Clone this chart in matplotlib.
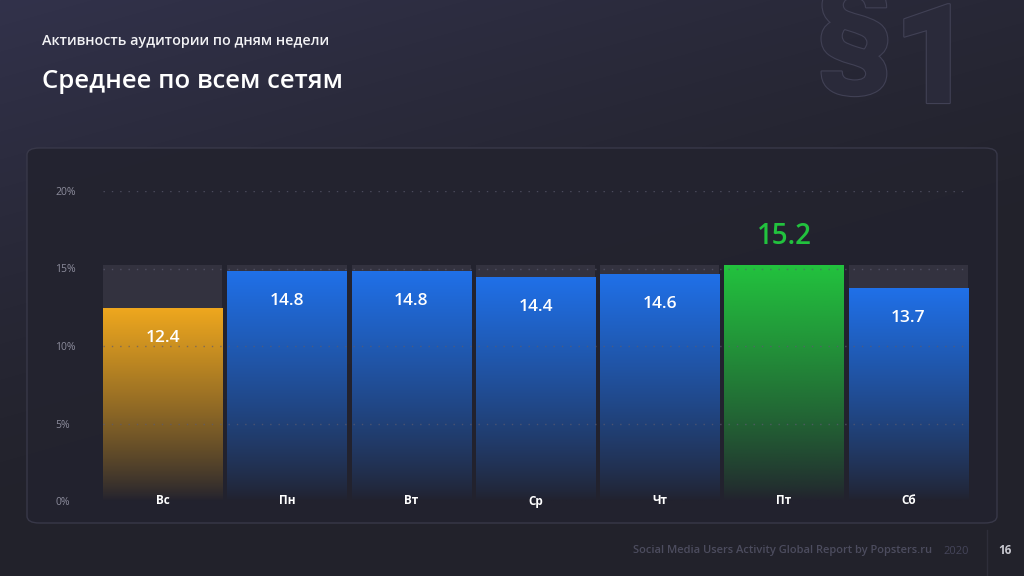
import numpy as np
import matplotlib.pyplot as plt
from matplotlib.patches import FancyBboxPatch
from matplotlib.lines import Line2D
from matplotlib import patheffects as pe
from matplotlib.colors import to_rgb

# data
days = ["Вс", "Пн", "Вт", "Ср", "Чт", "Пт", "Сб"]
values = [12.4, 14.8, 14.8, 14.4, 14.6, 15.2, 13.7]
yticks = [0, 5, 10, 15, 20]
ytick_labels = ["0%", "5%", "10%", "15%", "20%"]

subtitle = "Активность аудитории по дням недели"
title = "Среднее по всем сетям"
footer = "Social Media Users Activity Global Report by Popsters.ru"
year = "2020"
page = "16"

W, H = 1024, 576
FONT = ["Open Sans", "DejaVu Sans"]
plt.rcParams["font.family"] = FONT


def fx(px):
    return px / W


def fy(py):
    return 1 - py / H


fig = plt.figure(figsize=(W / 100, H / 100), dpi=100)

# background gradient (lighter to the top left)
bg_ax = fig.add_axes([0, 0, 1, 1], zorder=-10)
yy, xx = np.mgrid[0:H, 0:W]
t = np.clip(1 - (xx / W * 0.55 + yy / H * 1.1), 0, 1) ** 1.3
dark = np.array(to_rgb("#22222b"))
light = np.array(to_rgb("#32324b"))
img = dark + (light - dark) * t[..., None]
bg_ax.imshow(img, extent=[0, 1, 0, 1], aspect="auto", origin="upper")
bg_ax.axis("off")

# §1 outline (section mark, cut at the top edge as in the slide)
outline = [pe.Stroke(linewidth=1.6, foreground="#414155"), pe.Normal()]
fig.text(fx(816), fy(70), "§", fontsize=88, fontweight="black",
         family=["Roboto", "DejaVu Sans"], color="#2a2a3a", ha="left",
         va="baseline", path_effects=outline)
fig.text(fx(893), fy(103), "1", fontsize=100, fontweight="black",
         family=["Roboto", "DejaVu Sans"], color="#2a2a3a", ha="left",
         va="baseline", path_effects=outline)

# headings
fig.text(fx(42), fy(41), subtitle, fontsize=10.4, fontweight="semibold",
         color="#f2f2f5", va="center")
fig.text(fx(42), fy(81), title, fontsize=18.5, fontweight="semibold",
         color="#ffffff", va="center")

# panel
panel = FancyBboxPatch((fx(27), fy(523)), fx(997) - fx(27), fy(148) - fy(523),
                       boxstyle="round,pad=0,rounding_size=0.012",
                       transform=fig.transFigure, facecolor="#23232f",
                       edgecolor="#3a3a4b", linewidth=1.0, alpha=0.92, zorder=-5)
fig.patches.append(panel)

# chart axes
ax = fig.add_axes([fx(103), fy(501), fx(968) - fx(103), fy(191) - fy(501)])
ax.set_facecolor("none")
for s in ax.spines.values():
    s.set_visible(False)

x = np.arange(len(days))
width = 0.96
vmax = max(values)
vmin = min(values)

# grey backing bars up to the maximum
ax.bar(x, [vmax] * len(days), width=width, color="#33323f", zorder=1)

bottom_col = np.array(to_rgb("#22222e"))
for i, v in enumerate(values):
    if v == vmax:
        top = "#22c23e"
    elif v == vmin:
        top = "#eea71e"
    else:
        top = "#1f70e8"
    top = np.array(to_rgb(top))
    n = 200
    tt = np.linspace(0, 1, n) ** 0.85
    grad = bottom_col + (top - bottom_col) * tt[:, None]
    ax.imshow(grad[:, None, :], extent=[x[i] - width / 2, x[i] + width / 2, 0, v],
              origin="lower", aspect="auto", interpolation="bilinear", zorder=2)
    if v == vmax:
        ax.text(x[i], v + 1.85, f"{v:.1f}", ha="center", va="center",
                fontsize=20, fontweight="semibold", color="#22c23e", zorder=5)
    else:
        ax.text(x[i], v - 1.9, f"{v:.1f}", ha="center", va="center",
                fontsize=12.5, fontweight="semibold", color="#ffffff", zorder=5)
    ax.text(x[i], 0, days[i], ha="center", va="center", fontsize=8.5,
            fontweight="bold", color="#ffffff", zorder=5)

# dotted grid
for yv in yticks[1:]:
    ax.axhline(yv, color="#5c5c70", linewidth=1.0, linestyle=(0, (1, 5)),
               alpha=0.7, zorder=3)

ax.set_xlim(-0.48, len(days) - 0.52)
ax.set_ylim(0, 20)
ax.set_xticks([])
ax.set_yticks(yticks)
ax.set_yticklabels(ytick_labels)
ax.tick_params(axis="y", length=0, pad=34.5, labelsize=7.5, labelcolor="#8c8c9c")
for lab in ax.get_yticklabels():
    lab.set_horizontalalignment("left")

# footer
fig.text(fx(932), fy(551), footer, fontsize=8, fontweight="semibold",
         color="#4c4c5e", va="center", ha="right")
fig.text(fx(943), fy(551), year, fontsize=8, color="#45455a",
         va="center", ha="left")
fig.add_artist(Line2D([fx(987), fx(987)], [fy(530), 0], transform=fig.transFigure,
                      color="#2e2e3a", linewidth=1))
fig.text(fx(998), fy(551), page, fontsize=8.5, fontweight="bold",
         color="#c8c8d0", va="center", ha="left")

fig.savefig("out.png", dpi=100)
